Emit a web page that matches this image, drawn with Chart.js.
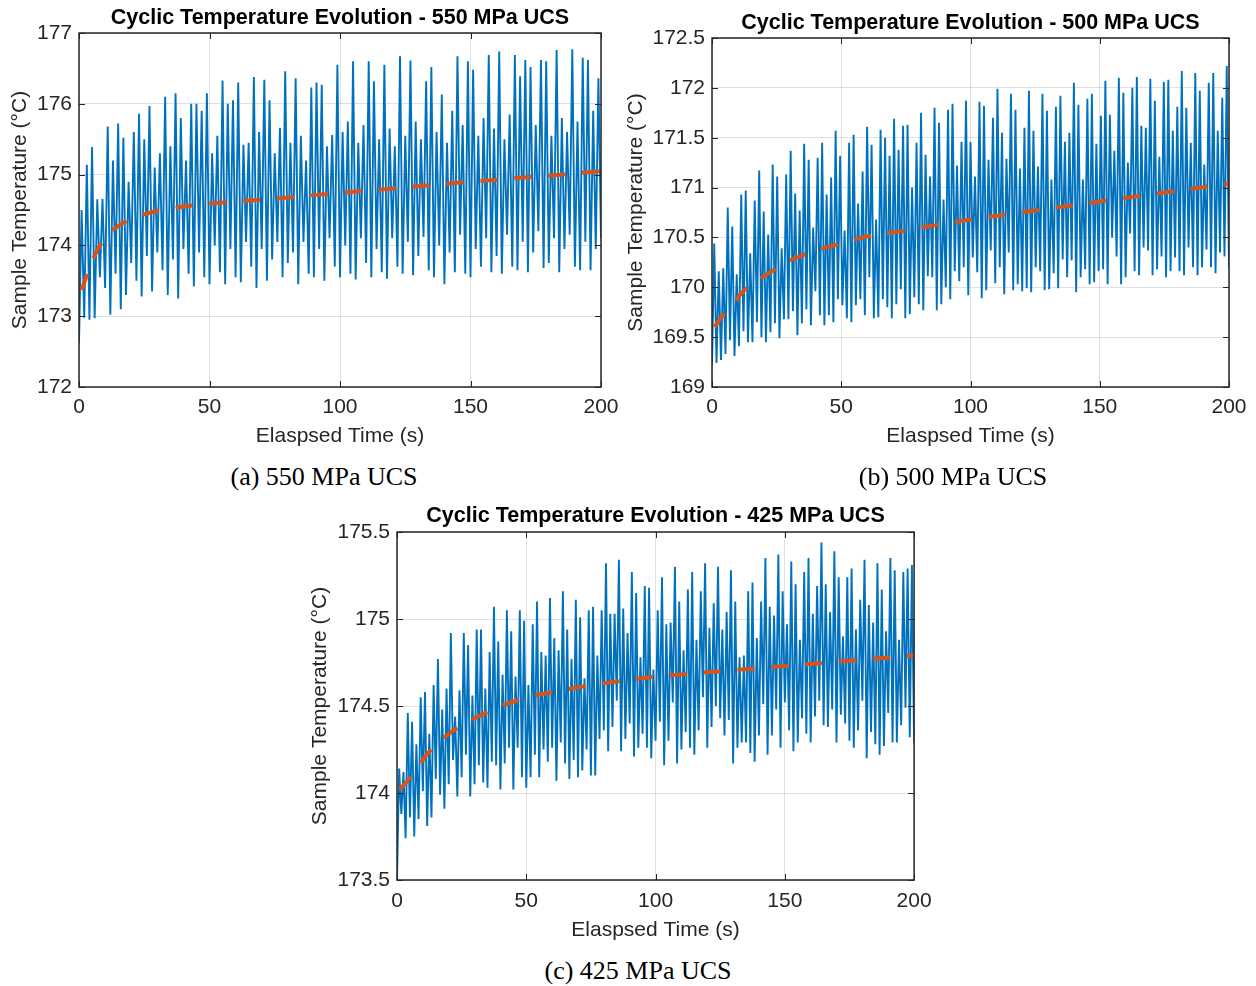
<!DOCTYPE html>
<html>
<head>
<meta charset="utf-8">
<script src="https://cdn.jsdelivr.net/npm/chart.js@4.4.1/dist/chart.umd.min.js"></script>
<style>
    body { margin: 0; background: #fff; width: 1256px; height: 986px; position: relative; overflow: hidden; }
    canvas { position: absolute; }
    .caption {
        position: absolute; width: 400px; text-align: center; line-height: 30px;
        font-family: "Liberation Serif", "Times New Roman", serif; font-size: 26px; color: #000;
    }
</style>
</head>
<body>
<canvas id="chart550" width="640" height="460" style="left:0;top:0"></canvas>
<canvas id="chart500" width="641" height="460" style="left:615px;top:0"></canvas>
<canvas id="chart425" width="640" height="460" style="left:300px;top:495px"></canvas>
<div class="caption" style="left:124px;top:462px">(a) 550 MPa UCS</div>
<div class="caption" style="left:753px;top:462px">(b) 500 MPa UCS</div>
<div class="caption" style="left:438px;top:956px">(c) 425 MPa UCS</div>
<script>
'use strict';

// x ticks shared by all three panels
var timeTicks = [0, 50, 100, 150, 200];

// --- (a) 550 MPa: start value, cycle peaks and troughs
var start550 = 172.62;
var peaks550 = [
    174.50, 175.14, 175.39, 174.65, 174.66, 175.68, 175.20, 175.72, 175.52, 174.90,
    175.60, 175.86, 175.50, 175.97, 175.10, 175.30, 176.10, 175.40, 176.15, 175.80,
    175.20, 176.00, 176.00, 175.90, 176.15, 175.30, 175.55, 176.33, 176.00, 176.05,
    176.30, 175.42, 175.45, 176.38, 175.60, 176.34, 176.05, 175.30, 175.66, 176.46,
    175.45, 176.36, 175.55, 175.20, 176.23, 176.30, 176.27, 175.40, 175.56, 176.55,
    175.60, 175.75, 176.60, 175.45, 175.70, 176.60, 176.32, 175.50, 176.55, 175.65,
    175.40, 176.67, 175.55, 176.61, 175.75, 175.50, 176.32, 176.52, 175.60, 176.13,
    175.45, 175.90, 176.67, 175.70, 176.60, 176.48, 175.55, 175.80, 176.69, 175.65,
    176.74, 175.50, 175.85, 176.69, 176.39, 176.62, 176.52, 175.70, 176.62, 176.60,
    175.55, 176.76, 175.80, 175.60, 176.77, 175.75, 176.65, 176.62, 175.90, 176.36
];
var troughs550 = [
    172.98, 172.95, 172.97, 173.55, 173.40, 173.02, 173.60, 173.10, 173.30, 173.75,
    173.50, 173.28, 173.85, 173.35, 173.90, 173.65, 173.30, 173.80, 173.25, 173.95,
    173.60, 173.42, 173.90, 173.55, 173.45, 174.00, 173.62, 173.45, 173.95, 173.55,
    173.48, 174.05, 173.70, 173.40, 173.95, 173.50, 173.80, 174.05, 173.55, 173.75,
    173.90, 173.45, 174.05, 173.60, 173.55, 173.95, 173.50, 174.10, 173.70, 173.55,
    174.00, 173.60, 173.52, 174.10, 173.75, 173.55, 173.95, 173.62, 173.53, 174.10,
    173.70, 173.60, 174.05, 173.58, 173.85, 174.12, 173.65, 173.55, 174.00, 173.45,
    173.90, 173.62, 174.15, 173.60, 173.55, 173.95, 173.70, 174.10, 173.62, 173.85,
    173.60, 174.15, 173.70, 173.65, 174.05, 173.62, 173.90, 174.20, 173.68, 173.75,
    174.10, 173.62, 173.95, 174.15, 173.70, 173.65, 174.05, 173.65, 173.95, 174.10
];

// --- (b) 500 MPa
var start500 = 169.22;
var peaks500 = [
    170.44, 170.16, 170.19, 170.80, 170.61, 170.13, 170.93, 170.97, 170.34, 170.87,
    171.17, 170.76, 170.53, 171.23, 171.11, 170.39, 171.13, 171.37, 170.94, 170.77,
    171.44, 171.28, 170.60, 171.30, 171.45, 170.93, 171.10, 171.57, 171.32, 170.57,
    171.45, 171.53, 170.84, 171.16, 171.61, 171.43, 170.68, 171.58, 171.50, 171.32,
    171.69, 171.38, 171.62, 171.63, 171.00, 171.45, 171.75, 171.33, 171.11, 171.80,
    171.65, 170.88, 171.78, 171.84, 171.22, 171.46, 171.87, 171.46, 171.11, 171.86,
    171.82, 171.28, 171.70, 171.99, 171.55, 171.29, 171.94, 171.78, 171.19, 171.60,
    171.97, 171.57, 171.21, 171.94, 171.77, 171.08, 171.81, 171.92, 171.46, 171.55,
    172.05, 171.83, 171.08, 171.89, 171.94, 171.44, 171.72, 172.07, 171.73, 171.37,
    172.10, 171.95, 171.25, 172.00, 172.11, 171.62, 171.60, 172.09, 171.87, 171.31,
    172.06, 172.08, 171.57, 171.81, 172.17, 171.80, 171.45, 172.15, 171.97, 171.23,
    172.05, 172.15, 171.57, 171.90, 172.22
];
var troughs500 = [
    169.24, 169.27, 169.33, 169.47, 169.31, 169.41, 169.56, 169.45, 169.45, 169.65,
    169.50, 169.45, 169.55, 169.64, 169.49, 169.68, 169.68, 169.76, 169.52, 169.64,
    169.78, 169.62, 169.96, 169.72, 169.62, 169.72, 169.65, 169.88, 169.82, 169.69,
    169.65, 169.82, 169.88, 169.72, 170.10, 169.69, 169.70, 169.88, 169.80, 169.69,
    169.83, 169.98, 169.69, 169.73, 169.90, 169.83, 169.77, 170.11, 170.10, 169.77,
    169.83, 170.00, 169.88, 170.16, 170.06, 170.20, 169.92, 170.30, 170.15, 169.89,
    169.97, 170.37, 170.04, 170.20, 169.93, 170.35, 169.97, 170.03, 169.96, 169.99,
    169.95, 170.20, 170.16, 169.97, 169.98, 170.14, 169.99, 170.28, 170.10, 170.27,
    169.95, 170.10, 170.18, 170.03, 170.05, 170.16, 170.18, 170.03, 170.50, 170.31,
    170.03, 170.10, 170.54, 170.16, 170.12, 170.40, 170.37, 170.12, 170.18, 170.31,
    170.10, 170.16, 170.30, 170.16, 170.12, 170.40, 170.20, 170.12, 170.20, 170.38,
    170.20, 170.14, 170.35, 170.31, 170.20
];

// --- (c) 425 MPa
var start425 = 173.50;
var peaks425 = [
    174.14, 174.12, 174.46, 174.41, 174.28, 174.55, 174.58, 174.34, 174.62, 174.77,
    174.48, 174.60, 174.92, 174.44, 174.59, 174.92, 174.85, 174.56, 174.94, 174.94,
    174.60, 174.81, 175.07, 174.87, 174.68, 175.05, 174.93, 174.67, 175.05, 174.99,
    174.62, 174.97, 175.10, 174.81, 174.79, 175.12, 174.89, 174.82, 175.16, 174.94,
    174.77, 175.11, 175.01, 174.66, 175.05, 175.07, 174.79, 175.05, 175.32, 175.03,
    175.03, 175.34, 175.06, 174.92, 175.27, 175.15, 174.78, 175.19, 175.18, 174.71,
    175.05, 175.24, 174.97, 174.98, 175.30, 175.10, 174.82, 175.17, 175.27, 174.88,
    175.16, 175.32, 174.95, 175.09, 175.30, 174.94, 175.04, 175.28, 175.10, 174.78,
    174.79, 175.16, 175.21, 174.89, 175.10, 175.35, 175.07, 175.02, 175.37, 175.16,
    174.97, 175.33, 175.20, 174.88, 175.27, 175.35, 175.03, 175.19, 175.44, 175.20,
    175.04, 175.39, 175.24, 174.90, 175.24, 175.29, 174.94, 175.11, 175.34, 175.08,
    174.98, 175.32, 175.17, 174.93, 175.35, 175.28, 174.88, 175.27, 175.29, 175.31
];
var troughs425 = [
    173.88, 173.74, 173.86, 173.75, 173.85, 174.01, 173.81, 173.86, 174.08, 173.99,
    173.91, 174.05, 174.19, 173.98, 174.09, 174.22, 173.98, 174.05, 174.16, 174.06,
    174.03, 174.18, 174.16, 174.02, 174.17, 174.26, 174.02, 174.26, 174.09, 174.03,
    174.09, 174.22, 174.09, 174.25, 174.18, 174.26, 174.07, 174.29, 174.17, 174.08,
    174.19, 174.09, 174.13, 174.25, 174.10, 174.10, 174.31, 174.36, 174.24, 174.38,
    174.53, 174.24, 174.31, 174.40, 174.21, 174.26, 174.34, 174.26, 174.20, 174.30,
    174.41, 174.16, 174.30, 174.52, 174.17, 174.25, 174.35, 174.26, 174.22, 174.36,
    174.55, 174.26, 174.38, 174.50, 174.43, 174.33, 174.42, 174.17, 174.26, 174.29,
    174.29, 174.23, 174.18, 174.33, 174.51, 174.22, 174.33, 174.48, 174.26, 174.52,
    174.36, 174.24, 174.29, 174.43, 174.34, 174.29, 174.44, 174.53, 174.39, 174.38,
    174.48, 174.29, 174.45, 174.40, 174.30, 174.26, 174.36, 174.53, 174.20, 174.35,
    174.28, 174.22, 174.27, 174.46, 174.29, 174.29, 174.39, 174.49, 174.32, 174.29
];

// fitted trend (orange dashed), sampled at these times
var trendTimes = [1, 3, 5, 8, 12, 16, 20, 25, 30, 40, 50, 60, 75, 90, 100, 125, 150, 175, 200];
var trend550 = [173.37, 173.58, 173.78, 174.00, 174.19, 174.30, 174.38, 174.44, 174.49, 174.55,
    174.59, 174.62, 174.66, 174.71, 174.74, 174.82, 174.90, 174.97, 175.05];
var trend500 = [169.60, 169.68, 169.74, 169.83, 169.96, 170.04, 170.11, 170.19, 170.27, 170.37,
    170.44, 170.51, 170.57, 170.64, 170.68, 170.77, 170.86, 170.95, 171.04];
var trend425 = [174.02, 174.05, 174.09, 174.15, 174.23, 174.29, 174.34, 174.39, 174.43, 174.50,
    174.55, 174.58, 174.62, 174.65, 174.67, 174.70, 174.73, 174.76, 174.79];

var FONT = '"Liberation Sans", Arial, Helvetica, sans-serif';
var AXIS_COLOR = '#262626';
Chart.defaults.font.family = FONT;

function buildSignal(start, peaks, troughs) {
    var period = 200 / peaks.length;
    var pts = [{x: 0, y: start}];
    for (var i = 0; i < peaks.length; i++) {
        pts.push({x: (i + 0.5) * period, y: peaks[i]});
        pts.push({x: (i + 1) * period, y: troughs[i]});
    }
    return pts;
}

function buildTrend(values) {
    return trendTimes.map(function (t, i) { return {x: t, y: values[i]}; });
}

// MATLAB style box with inward tick marks on all four sides
var matlabBox = {
    id: 'matlabBox',
    afterDraw: function (chart) {
        var ctx = chart.ctx;
        var a = chart.chartArea;
        var xs = chart.scales.x;
        var ys = chart.scales.y;
        ctx.save();
        ctx.strokeStyle = AXIS_COLOR;
        ctx.lineWidth = 1;
        ctx.beginPath();
        xs.ticks.forEach(function (t) {
            var px = Math.round(xs.getPixelForValue(t.value)) + 0.5;
            ctx.moveTo(px, a.bottom); ctx.lineTo(px, a.bottom - 6);
            ctx.moveTo(px, a.top); ctx.lineTo(px, a.top + 6);
        });
        ys.ticks.forEach(function (t) {
            var py = Math.round(ys.getPixelForValue(t.value)) + 0.5;
            ctx.moveTo(a.left, py); ctx.lineTo(a.left + 6, py);
            ctx.moveTo(a.right, py); ctx.lineTo(a.right - 6, py);
        });
        ctx.stroke();
        ctx.lineWidth = 1.5;
        ctx.strokeRect(a.left, a.top, a.right - a.left, a.bottom - a.top);
        ctx.restore();
    }
};

function makeChart(id, p) {
    return new Chart(document.getElementById(id), {
        type: 'line',
        data: {
            datasets: [{
                label: 'Trend',
                data: buildTrend(p.trend),
                borderColor: '#D95319',
                borderWidth: 4,
                borderDash: [17, 17],
                borderCapStyle: 'butt',
                pointRadius: 0,
                order: 0
            }, {
                label: 'Sample Temperature',
                data: buildSignal(p.start, p.peaks, p.troughs),
                borderColor: '#0072BD',
                borderWidth: 1.9,
                pointRadius: 0,
                order: 1
            }]
        },
        options: {
            responsive: false,
            animation: false,
            layout: {padding: {left: 0, top: 0, right: p.padRight, bottom: 0}},
            plugins: {
                legend: {display: false},
                tooltip: {enabled: false},
                title: {
                    display: true,
                    text: p.title,
                    fullSize: false,
                    color: '#000',
                    font: {size: 21.5, weight: 'bold'},
                    padding: {top: p.titleTop, bottom: p.titleBottom}
                }
            },
            scales: {
                x: {
                    type: 'linear',
                    min: 0,
                    max: 200,
                    afterBuildTicks: function (s) { s.ticks = timeTicks.map(function (v) { return {value: v}; }); },
                    ticks: {color: AXIS_COLOR, font: {size: 21}, padding: p.xTickPad, autoSkip: false, maxRotation: 0},
                    grid: {color: 'rgba(38,38,38,0.14)', drawTicks: false},
                    border: {display: false},
                    title: {
                        display: true, text: 'Elaspsed Time (s)', color: AXIS_COLOR,
                        font: {size: 21}, padding: {top: 0, bottom: p.xTitlePad}
                    },
                    afterFit: function (s) { s.height = p.xHeight; }
                },
                y: {
                    type: 'linear',
                    min: p.yMin,
                    max: p.yMax,
                    afterBuildTicks: function (s) { s.ticks = p.yTicks.map(function (v) { return {value: v}; }); },
                    ticks: {
                        color: AXIS_COLOR, font: {size: 21}, padding: 7, autoSkip: false,
                        callback: function (v) { return String(Math.round(v * 10) / 10); }
                    },
                    grid: {color: 'rgba(38,38,38,0.14)', drawTicks: false},
                    border: {display: false},
                    title: {
                        display: true, text: 'Sample Temperature (°C)', color: AXIS_COLOR,
                        font: {size: 21}, padding: {top: p.yTitlePad, bottom: 0}
                    },
                    afterFit: function (s) { s.width = p.yWidth; }
                }
            }
        },
        plugins: [matlabBox]
    });
}

makeChart('chart550', {
    title: 'Cyclic Temperature Evolution - 550 MPa UCS',
    start: start550, peaks: peaks550, troughs: troughs550, trend: trend550,
    yMin: 172, yMax: 177, yTicks: [172, 173, 174, 175, 176, 177],
    padRight: 39, yWidth: 79, xHeight: 73,
    titleTop: 5.1, titleBottom: 2.1, yTitlePad: 7.4, xTickPad: 7.4, xTitlePad: 11.4
});

makeChart('chart500', {
    title: 'Cyclic Temperature Evolution - 500 MPa UCS',
    start: start500, peaks: peaks500, troughs: troughs500, trend: trend500,
    yMin: 169, yMax: 172.5, yTicks: [169, 169.5, 170, 170.5, 171, 171.5, 172, 172.5],
    padRight: 27, yWidth: 97, xHeight: 73,
    titleTop: 10.1, titleBottom: 2.1, yTitlePad: 8.4, xTickPad: 7.4, xTitlePad: 11.4
});

makeChart('chart425', {
    title: 'Cyclic Temperature Evolution - 425 MPa UCS',
    start: start425, peaks: peaks425, troughs: troughs425, trend: trend425,
    yMin: 173.5, yMax: 175.5, yTicks: [173.5, 174, 174.5, 175, 175.5],
    padRight: 25, yWidth: 97, xHeight: 75,
    titleTop: 8.1, titleBottom: 3.1, yTitlePad: 7.4, xTickPad: 8.4, xTitlePad: 12.4
});
</script>
</body>
</html>
